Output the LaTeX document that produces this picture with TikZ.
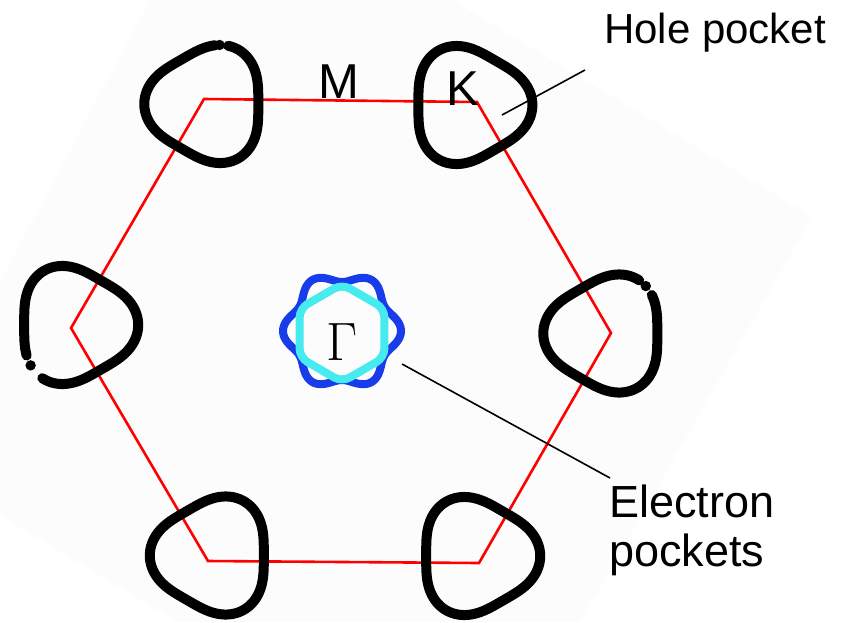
\documentclass[tikz,border=0pt]{standalone}
\usepackage{fontspec}
\newfontfamily\labelfont{Liberation Sans}
\definecolor{hexred}{RGB}{255,0,0}
\definecolor{eblue}{RGB}{25,60,235}
\definecolor{ecyan}{RGB}{70,235,240}
\definecolor{bgpatch}{RGB}{252,252,252}
\tikzset{
  pocket/.style={draw=black,line width=10pt,line cap=round,line join=round},
  bzone/.style={draw=hexred,line width=2.6pt,line join=miter},
  leader/.style={draw=black,line width=1.6pt},
  lbl/.style={inner sep=0pt,font=\labelfont\fontsize{42}{48}\selectfont},
  pt/.style={inner sep=0pt,font=\labelfont\fontsize{49}{52}\selectfont},
  el/.style={inner sep=0pt,font=\labelfont\fontsize{45}{48}\selectfont},
}
% pocket: center x, center y, orientation, start angle, end angle
\newcommand{\holepocket}[5]{%
  \draw[pocket] plot[domain=#4:#5,samples=180,smooth]
    ({#1+57*(1+0.10*cos(3*(\x-#3)))*cos(\x)},{#2-57*(1+0.10*cos(3*(\x-#3)))*sin(\x)});}
\newcommand{\pocketdot}[4]{%
  \fill ({#1+57*(1+0.10*cos(3*(#4-#3)))*cos(#4)},{#2-57*(1+0.10*cos(3*(#4-#3)))*sin(#4)}) circle (5.2pt);}
\begin{document}
\begin{tikzpicture}[x=1pt,y=-1pt]
\useasboundingbox (0,0) rectangle (846,622);
\fill[white] (0,0) rectangle (846,622);
\fill[bgpatch] (150,0) -- (452,0) -- (812,217) -- (580,622) -- (178,622) -- (0,515) -- (0,283) -- cycle;

% Brillouin zone
\coordinate (v1) at (204,99);
\coordinate (v2) at (477,102);
\coordinate (v3) at (611,333);
\coordinate (v4) at (479,563);
\coordinate (v5) at (208,561);
\coordinate (v6) at (71,328);
\draw[bzone] (v1) -- (v2) -- (v3) -- (v4) -- (v5) -- (v6) -- cycle;

% hole pockets
\holepocket{469.7}{105}{0}{0}{360}
\holepocket{606}{333.5}{180}{58}{400}
\pocketdot{606}{333.5}{180}{50}
\holepocket{477.5}{556}{0}{0}{360}
\holepocket{212.5}{555.5}{180}{0}{360}
\holepocket{75.5}{325}{0}{238}{572}
\pocketdot{75.5}{325}{0}{222}
\holepocket{207}{104}{180}{82}{430}
\pocketdot{207}{104}{180}{78}

% electron pockets
\coordinate (gam) at (342,332);
\draw[eblue,line width=8pt,line join=round] plot[domain=0:360,samples=240,smooth]
  ({342+(54+5*cos(6*\x))*cos(\x)},{331-(54+5*cos(6*\x))*sin(\x)});
\draw[ecyan,line width=8pt,rounded corners=9pt]
  (342,284) -- (384.4,308.5) -- (384.4,357.5) -- (342,382) -- (299.6,357.5) -- (299.6,308.5) -- cycle;

% labels
\node[pt,anchor=base] (M) at (338.5,98) {M};
\node[pt,anchor=base west] (K) at (446,105) {K};
\node[inner sep=0pt,anchor=base,font=\rmfamily\fontsize{54}{54}\selectfont] (G) at (342.5,360) {Γ};
\node[lbl,anchor=base west] (hole) at (604,43) {Hole pocket};
\node[el,anchor=base west] (el1) at (609,517) {Electron};
\node[el,anchor=base west] (el2) at (609,566) {pockets};

% leaders
\coordinate (hp1) at (502,115);
\coordinate (hp2) at (585,70);
\draw[leader] (hp1) -- (hp2);
\coordinate (ep1) at (402,364);
\coordinate (ep2) at (610,478);
\draw[leader] (ep1) -- (ep2);
\end{tikzpicture}
\end{document}
